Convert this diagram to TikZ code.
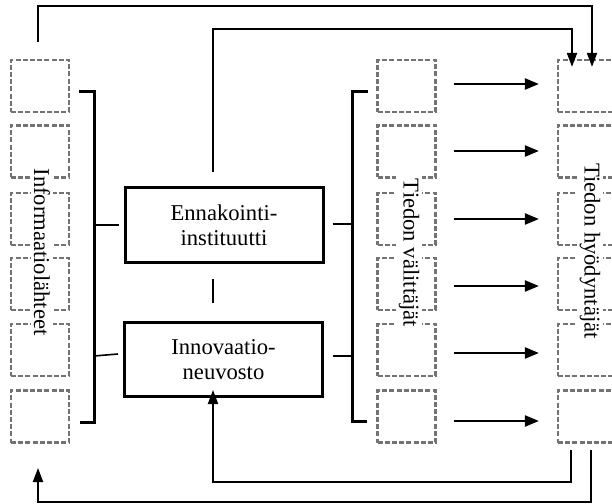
\documentclass[tikz,border=0pt]{standalone}
\usepackage{fontspec}
\setmainfont{Liberation Serif}
\usetikzlibrary{arrows.meta}

\tikzset{
  slot/.style={draw=black!55, line width=2.2bp, dash pattern=on 5bp off 2.2bp,
    minimum width=58bp, minimum height=52bp, inner sep=0pt},
  unit/.style={draw=black, line width=3bp, minimum width=198bp, minimum height=74bp,
    align=center, inner sep=0pt, font=\fontsize{22.7}{25}\selectfont},
  caption/.style={rotate=-90, fill=white, inner sep=3bp,
    font=\fontsize{22.7}{25}\selectfont},
  brace/.style={line width=3bp},
  stub/.style={line width=1.6bp},
  flow/.style={line width=2.3bp, -{Triangle[length=14bp,width=11bp]}},
  feed/.style={line width=2bp, -{Triangle[length=14bp,width=10bp]}}
}

\begin{document}
\begin{tikzpicture}[x=1bp, y=-1bp]
\useasboundingbox (0,0) rectangle (612,504);

% three columns of dashed slots
\foreach \i/\y in {1/86, 2/151.5, 3/219, 4/284, 5/350, 6/416.5} {
  \node[slot] (l\i) at (40,\y) {};
  \node[slot] (m\i) at (406.5,\y) {};
  \node[slot] (r\i) at (587,\y) {};
}

% central units
\node[unit] (enn) at (224,225) {Ennakointi-\\instituutti};
\node[unit] (inn) at (223.5,359.5) {Innovaatio-\\neuvosto};

% column captions
\node[caption] (lcap) at (42,252) {Informaatiolähteet};
\node[caption] (mcap) at (409,253) {Tiedon välittäjät};
\node[caption] (rcap) at (590,251) {Tiedon hyödyntäjät};

% left bracket
\coordinate (lbt) at (94,92);
\coordinate (lbb) at (94,422);
\coordinate (lbtt) at (79,92);
\coordinate (lbbt) at (80,422);
\draw[brace] (lbtt) -- (lbt) -- (lbb) -- (lbbt);
\coordinate (lbe) at (94,225);
\coordinate (lbi) at (94,356);
\draw[stub] (lbe) -- ([xshift=-5bp]enn.west |- lbe);
\draw[stub] (lbi) -- ([xshift=-5bp]inn.west |- 0,354);

% middle bracket
\coordinate (mbt) at (352,92);
\coordinate (mbb) at (352,421);
\coordinate (mbtt) at (368,92);
\coordinate (mbbt) at (367,421);
\draw[brace] (mbtt) -- (mbt) -- (mbb) -- (mbbt);
\coordinate (mbe) at (352,224);
\coordinate (mbi) at (352,356);
\draw[stub] ([xshift=8bp]enn.east |- mbe) -- (mbe);
\draw[stub] ([xshift=9bp]inn.east |- mbi) -- (mbi);

% link between the two units
\coordinate (lk1) at (213,279);
\coordinate (lk2) at (213,303);
\draw[line width=2bp] (lk1) -- (lk2);

% flows from intermediaries to users
\foreach \i/\y in {1/84, 2/151, 3/219, 4/286, 5/353, 6/421} {
  \draw[flow] (m\i.east |- 0,\y) ++(17,0) coordinate (fa\i)
    -- ([xshift=-18bp]r\i.west |- fa\i);
}

% feedback loops along the top
\coordinate (t1) at (38,42);
\coordinate (t2) at (213,172);
\draw[feed] (t1) |- (592,6) -- ([yshift=-8bp]r1.north -| 592,0);
\draw[feed] (t2) |- (572,29) -- ([yshift=-8bp]r1.north -| 572,0);

% feedback loops along the bottom
\coordinate (b1) at (571,450);
\coordinate (b2) at (591,450);
\draw[feed] (b1) |- (213,482) -- ([yshift=8bp]inn.south -| 213,0);
\draw[feed] (b2) |- (38,502) -- (38,468);
\end{tikzpicture}
\end{document}
